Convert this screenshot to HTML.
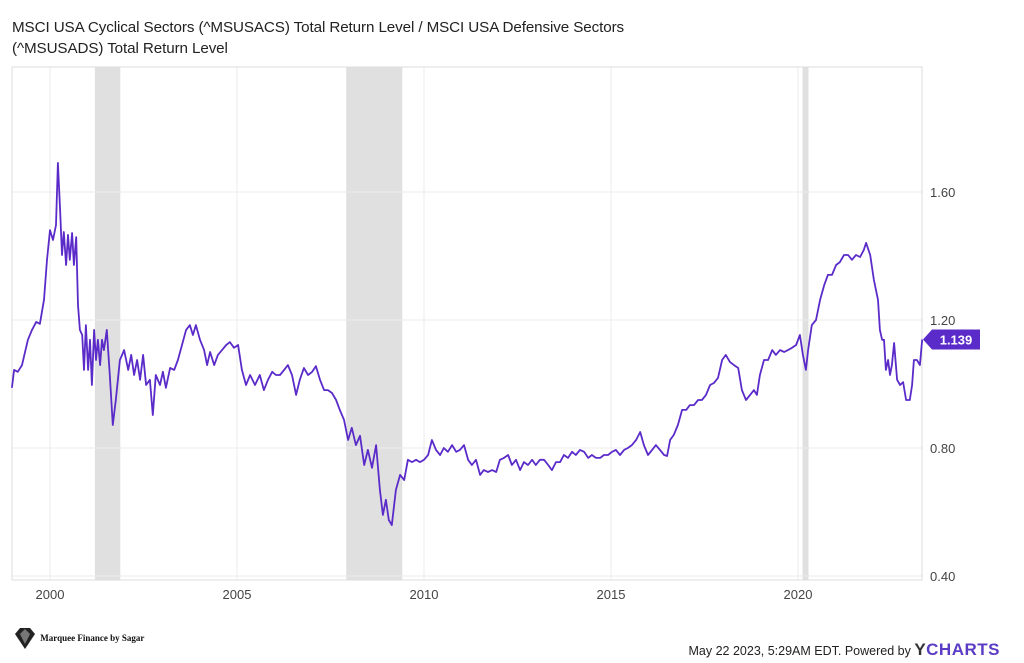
<!DOCTYPE html>
<html><head><meta charset="utf-8"><style>
body{margin:0;background:#fff;width:1024px;height:663px;overflow:hidden;font-family:"Liberation Sans",sans-serif}
#title{position:absolute;left:12px;top:17px;font-size:15.2px;line-height:21px;color:#222;letter-spacing:-0.1px}
svg{position:absolute;left:0;top:0}
#foot{position:absolute;right:24px;top:640px;font-size:12.5px;color:#222}
#foot b{font-size:17px;color:#333;letter-spacing:0.5px}
#foot b span{color:#5b3cc4}
#logo{position:absolute;left:12px;top:626px;font-size:9px;font-family:"Liberation Serif",serif;color:#111}
</style></head><body>
<div id="title">MSCI USA Cyclical Sectors (^MSUSACS) Total Return Level / MSCI USA Defensive Sectors<br>(^MSUSADS) Total Return Level</div>
<svg id="chart" width="1024" height="663"></svg>
<div id="logo"><svg width="26" height="26" style="position:static;vertical-align:middle"><polygon points="3,8 8,2 18,2 23,8 13,23" fill="#222"/><polygon points="8,8 13,3 18,8 13,18" fill="#777"/></svg> <b>Marquee Finance by Sagar</b></div>
<div id="foot">May 22 2023, 5:29AM EDT. Powered by <b>Y<span>CHARTS</span></b></div>
<script>
const years=[1998.98,1999.04,1999.14,1999.25,1999.41,1999.52,1999.63,1999.73,1999.84,1999.92,2000.00,2000.08,2000.16,2000.21,2000.27,2000.32,2000.37,2000.43,2000.48,2000.53,2000.59,2000.64,2000.70,2000.75,2000.80,2000.86,2000.91,2000.96,2001.02,2001.07,2001.12,2001.18,2001.23,2001.28,2001.34,2001.39,2001.44,2001.52,2001.60,2001.68,2001.76,2001.87,2001.98,2002.09,2002.17,2002.25,2002.33,2002.41,2002.49,2002.57,2002.67,2002.75,2002.83,2002.94,2003.02,2003.10,2003.21,2003.32,2003.42,2003.53,2003.64,2003.74,2003.82,2003.90,2004.01,2004.12,2004.20,2004.28,2004.39,2004.49,2004.60,2004.71,2004.81,2004.92,2005.03,2005.13,2005.24,2005.35,2005.48,2005.61,2005.72,2005.83,2005.94,2006.04,2006.15,2006.26,2006.36,2006.47,2006.58,2006.68,2006.79,2006.90,2007.01,2007.11,2007.22,2007.33,2007.43,2007.54,2007.65,2007.75,2007.86,2007.97,2008.07,2008.18,2008.29,2008.40,2008.50,2008.61,2008.72,2008.82,2008.90,2008.98,2009.06,2009.14,2009.25,2009.36,2009.47,2009.57,2009.68,2009.79,2009.89,2010.00,2010.11,2010.21,2010.32,2010.43,2010.53,2010.64,2010.75,2010.86,2010.96,2011.07,2011.18,2011.28,2011.39,2011.50,2011.60,2011.71,2011.82,2011.93,2012.03,2012.14,2012.25,2012.35,2012.46,2012.57,2012.67,2012.78,2012.89,2012.99,2013.10,2013.21,2013.32,2013.42,2013.53,2013.64,2013.74,2013.85,2013.96,2014.06,2014.17,2014.28,2014.39,2014.49,2014.60,2014.71,2014.81,2014.92,2015.03,2015.13,2015.24,2015.35,2015.45,2015.56,2015.67,2015.78,2015.88,2015.99,2016.10,2016.20,2016.31,2016.42,2016.50,2016.58,2016.68,2016.79,2016.90,2017.01,2017.11,2017.22,2017.33,2017.43,2017.54,2017.65,2017.75,2017.86,2017.97,2018.07,2018.18,2018.29,2018.40,2018.50,2018.61,2018.72,2018.82,2018.90,2018.98,2019.09,2019.20,2019.31,2019.41,2019.52,2019.63,2019.73,2019.84,2019.95,2020.05,2020.13,2020.21,2020.27,2020.37,2020.48,2020.59,2020.70,2020.80,2020.91,2021.02,2021.12,2021.23,2021.34,2021.44,2021.55,2021.66,2021.76,2021.82,2021.93,2022.03,2022.14,2022.19,2022.25,2022.30,2022.35,2022.41,2022.46,2022.51,2022.57,2022.65,2022.73,2022.81,2022.89,2022.99,2023.05,2023.10,2023.18,2023.26,2023.32];
const values=[0.988,1.044,1.038,1.059,1.138,1.169,1.194,1.188,1.263,1.388,1.481,1.450,1.497,1.691,1.544,1.403,1.475,1.372,1.466,1.388,1.472,1.372,1.459,1.247,1.169,1.153,1.044,1.184,1.044,1.138,0.997,1.169,1.075,1.138,1.059,1.138,1.106,1.169,1.028,0.872,0.950,1.075,1.106,1.044,1.091,1.028,1.075,1.013,1.091,0.997,1.013,0.903,1.028,0.997,1.038,0.988,1.050,1.044,1.075,1.122,1.169,1.184,1.153,1.184,1.138,1.106,1.059,1.100,1.059,1.091,1.106,1.122,1.131,1.113,1.122,1.044,0.997,1.028,0.997,1.028,0.981,1.013,1.038,1.028,1.028,1.044,1.059,1.028,0.966,1.013,1.050,1.028,1.038,1.056,1.013,0.981,0.981,0.972,0.950,0.919,0.888,0.825,0.863,0.809,0.838,0.747,0.794,0.738,0.809,0.669,0.591,0.638,0.575,0.559,0.669,0.716,0.700,0.763,0.756,0.763,0.756,0.763,0.778,0.825,0.794,0.778,0.800,0.788,0.809,0.788,0.794,0.809,0.763,0.747,0.763,0.716,0.731,0.725,0.731,0.725,0.763,0.769,0.778,0.747,0.763,0.731,0.756,0.747,0.763,0.747,0.763,0.763,0.747,0.731,0.756,0.756,0.778,0.769,0.788,0.778,0.794,0.788,0.769,0.778,0.769,0.769,0.778,0.778,0.788,0.794,0.778,0.794,0.800,0.809,0.825,0.850,0.809,0.778,0.794,0.809,0.794,0.778,0.775,0.825,0.841,0.872,0.919,0.919,0.934,0.934,0.950,0.950,0.966,0.997,1.003,1.019,1.075,1.091,1.069,1.059,1.050,0.981,0.950,0.966,0.981,0.966,1.028,1.075,1.075,1.106,1.091,1.106,1.100,1.106,1.113,1.122,1.153,1.091,1.044,1.106,1.184,1.200,1.263,1.309,1.341,1.341,1.372,1.381,1.403,1.403,1.388,1.403,1.397,1.419,1.441,1.403,1.325,1.263,1.169,1.138,1.138,1.044,1.075,1.028,1.059,1.128,1.013,0.997,1.006,0.950,0.950,0.997,1.075,1.075,1.059,1.139];
const yTicks=[0.4,0.8,1.2,1.6];
const yTickLabels=["0.40","0.80","1.20","1.60"];
const xTicks=[2000,2005,2010,2015,2020];
const recStart=[2001.2,2007.92,2020.12];
const recEnd=[2001.88,2009.42,2020.28];
const lastLabel="1.139";
const L=12,R=922,T=67,B=580;
const xs=y=>50+(y-2000)*37.4;
const ys=v=>576-(v-0.4)*320;
const svg=document.getElementById('chart');const NS='http://www.w3.org/2000/svg';
function mk(t,a){const e=document.createElementNS(NS,t);for(const k in a)e.setAttribute(k,a[k]);svg.appendChild(e);return e;}
recStart.forEach((s,i)=>{const r=mk('rect',{x:xs(s),y:T,width:xs(recEnd[i])-xs(s),height:B-T,fill:'#e0e0e0'});

});
yTicks.forEach((v,i)=>{const l=mk('line',{x1:L,x2:R,y1:ys(v),y2:ys(v),stroke:'#ebebeb'});


const t=mk('text',{x:930,y:ys(v)+5,'font-size':13,fill:'#444'});t.textContent=yTickLabels[i];

});
xTicks.forEach(y=>{const l=mk('line',{x1:xs(y),x2:xs(y),y1:T,y2:B,stroke:'#ebebeb'});


const t=mk('text',{x:xs(y),y:599,'font-size':13,fill:'#444','text-anchor':'middle'});t.textContent=y;

});
const fr=mk('rect',{x:L,y:T,width:R-L,height:B-T,fill:'none',stroke:'#dcdcdc'});


const d=years.map((y,i)=>(i?'L':'M')+xs(y).toFixed(1)+' '+ys(values[i]).toFixed(1)).join(' ');
const p=mk('path',{d:d,fill:'none',stroke:'#5b2bc9','stroke-width':1.8,'stroke-linejoin':'round'});


const ly=ys(values[values.length-1]);
const tag=mk('polygon',{points:`${R+1},${ly} ${R+10},${ly-10} ${R+58},${ly-10} ${R+58},${ly+10} ${R+10},${ly+10}`,fill:'#5b2bc9'});


const tt=mk('text',{x:R+34,y:ly+5,'font-size':13,'font-weight':'bold',fill:'#fff','text-anchor':'middle'});tt.textContent=lastLabel;


</script>
</body></html>
